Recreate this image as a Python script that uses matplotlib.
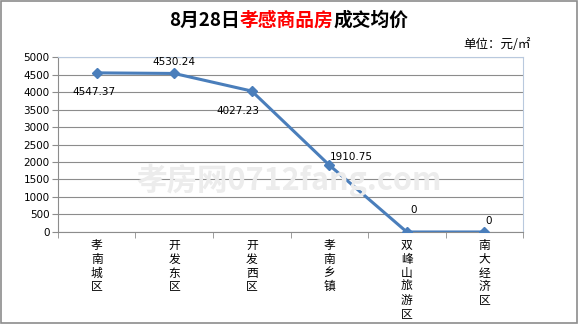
import numpy as np
import matplotlib.pyplot as plt
from matplotlib.patches import Rectangle

plt.rcParams['font.family'] = ['Noto Sans CJK SC', 'DejaVu Sans']

# Data
districts = ['孝南城区', '开发东区', '开发西区', '孝南乡镇', '双峰山旅游区', '南大经济区']
prices = [4547.37, 4530.24, 4027.23, 1910.75, 0, 0]
yticks = [0, 500, 1000, 1500, 2000, 2500, 3000, 3500, 4000, 4500, 5000]

fig = plt.figure(figsize=(5.78, 3.24), dpi=100)
fig.patches.append(Rectangle((0.002, 0.003), 0.996, 0.994, transform=fig.transFigure,
                             fill=False, edgecolor='#8c8c8c', linewidth=1.2))
ax = fig.add_axes([0.1003, 0.284, 0.8047, 0.540])

x = np.arange(len(districts))
ax.plot(x, prices, color='#4a7ebb', linewidth=2.2, marker='D', markersize=5.5, zorder=3)

ax.set_xlim(-0.5, len(districts) - 0.5)
ax.set_ylim(0, 5000)
ax.set_yticks(yticks)
ax.set_yticklabels([str(v) for v in yticks], fontsize=7.5, family='DejaVu Sans')
ax.grid(axis='y', color='#8c8c8c', linewidth=0.8)
ax.set_axisbelow(True)

# category labels (vertical, stacked characters)
ax.set_xticks(x)
ax.set_xticklabels(['\n'.join(d) for d in districts], fontsize=8.5, linespacing=1.08, va='top')
ax.tick_params(axis='x', length=0, pad=5)
ax.set_xticks(np.arange(-0.5, len(districts)), minor=True)
ax.tick_params(axis='x', which='minor', length=4, color='#8c8c8c')
ax.tick_params(axis='y', length=4, color='#8c8c8c', pad=2)

for s in ['top', 'right']:
    ax.spines[s].set_color('#b9c9de')
for s in ['left', 'bottom']:
    ax.spines[s].set_color('#8c8c8c')

# data labels
offsets = [(-2, -14), (0, 8), (-10, -14), (16, 6), (5, 16), (3, 8)]
for xi, v, (dx, dy) in zip(x, prices, offsets):
    lbl = '0' if v == 0 else f'{v:.2f}'
    ax.annotate(lbl, (xi, v), xytext=(dx, dy), textcoords='offset points',
                ha='center', va='center', fontsize=7.5, family='DejaVu Sans')

# title, three coloured pieces placed side by side
renderer = fig.canvas.get_renderer()
parts = [('8月28日', 'black'), ('孝感商品房', 'red'), ('成交均价', 'black')]
texts = [fig.text(0, 0.937, s, fontsize=13.5, fontweight='bold', color=c, va='center')
         for s, c in parts]
widths = [t.get_window_extent(renderer).width for t in texts]
xpos = 289 - sum(widths) / 2
for t, w in zip(texts, widths):
    t.set_x(xpos / 578)
    xpos += w

fig.text(0.918, 0.862, '单位：元/㎡', fontsize=9, ha='right', va='center')

# watermark
fig.text(0.5, 0.445, '孝房网0712fang.com', fontsize=22, color='#ececec', ha='center',
         va='center', fontweight='bold', zorder=0)

fig.savefig('out.png', dpi=100)
